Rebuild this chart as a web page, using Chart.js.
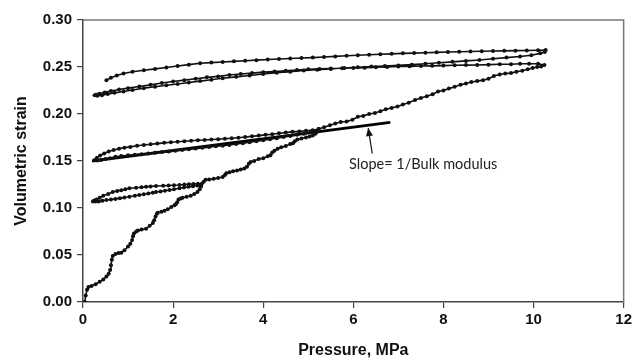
<!DOCTYPE html>
<html>
<head>
<meta charset="utf-8">
<script src="https://cdn.jsdelivr.net/npm/chart.js@4.4.1/dist/chart.umd.min.js"></script>
<style>
  html, body { margin: 0; padding: 0; background: #fff; }
  #wrap { width: 635px; height: 359px; position: relative; }
</style>
</head>
<body>
<div id="wrap"><canvas id="c" width="635" height="359"></canvas></div>
<script>
// ---- Data ----
// Initial loading 0 -> 2.64 MPa
const loadP1 = [0.04,0.06,0.09,0.12,0.19,0.28,0.37,0.45,0.52,0.57,0.60,0.62,0.64,0.66,0.72,0.79,0.85,0.92,1.00,1.05,1.09,1.11,1.13,1.18,1.22,1.30,1.40,1.48,1.55,1.58,1.61,1.64,1.66,1.74,1.81,1.88,1.96,2.03,2.06,2.09,2.12,2.17,2.21,2.30,2.39,2.47,2.54,2.59,2.62,2.64];
const loadS1 = [0.000,0.007,0.013,0.016,0.017,0.019,0.0216,0.024,0.027,0.030,0.034,0.039,0.045,0.049,0.051,0.052,0.0525,0.055,0.059,0.062,0.066,0.070,0.073,0.075,0.076,0.077,0.078,0.081,0.084,0.087,0.091,0.094,0.095,0.096,0.097,0.0986,0.101,0.103,0.104,0.106,0.109,0.110,0.111,0.112,0.113,0.115,0.117,0.120,0.123,0.126];
// First unloading (upper branch of loop 1)
const unloadP1 = [2.55,2.45,2.35,2.25,2.14,2.02,1.90,1.78,1.62,1.50,1.40,1.30,1.18,1.03,0.94,0.85,0.76,0.66,0.56,0.45,0.37,0.30,0.25,0.22];
const unloadS1 = [0.1258,0.1256,0.1253,0.125,0.1245,0.1242,0.124,0.1237,0.1234,0.123,0.1225,0.122,0.1215,0.121,0.120,0.119,0.118,0.117,0.115,0.113,0.111,0.109,0.108,0.107];
// First reloading (lower branch of loop 1)
const reloadP1 = [0.28,0.35,0.43,0.52,0.62,0.72,0.82,0.92,1.03,1.15,1.25,1.35,1.45,1.55,1.62,1.72,1.82,1.92,2.02,2.14,2.24,2.34,2.44,2.54,2.62,2.68];
const reloadS1 = [0.1068,0.107,0.1078,0.1085,0.109,0.1097,0.1105,0.1112,0.112,0.113,0.1138,0.1146,0.1155,0.1163,0.117,0.1176,0.1184,0.1192,0.120,0.121,0.1218,0.1225,0.1232,0.124,0.1245,0.128];
// Loading 2.7 -> 5.23 MPa
const loadP2 = [2.72,2.80,2.90,3.00,3.10,3.15,3.18,3.25,3.33,3.42,3.50,3.58,3.64,3.68,3.72,3.80,3.90,4.00,4.10,4.16,4.20,4.25,4.32,4.40,4.50,4.60,4.66,4.70,4.76,4.85,4.95,5.03,5.10,5.16,5.20,5.23];
const loadS2 = [0.130,0.1302,0.131,0.132,0.133,0.135,0.137,0.138,0.139,0.140,0.141,0.142,0.144,0.147,0.149,0.150,0.152,0.153,0.155,0.156,0.159,0.161,0.163,0.1645,0.166,0.168,0.169,0.171,0.173,0.174,0.175,0.176,0.177,0.179,0.181,0.184];
// Second unloading (upper branch of loop 2)
const unloadP2 = [5.10,4.95,4.80,4.65,4.50,4.35,4.20,4.05,3.90,3.75,3.60,3.45,3.30,3.15,3.00,2.85,2.70,2.55,2.40,2.25,2.10,1.95,1.80,1.65,1.50,1.35,1.20,1.05,0.92,0.80,0.68,0.57,0.47,0.38,0.31,0.26];
const unloadS2 = [0.1828,0.1822,0.1815,0.181,0.1802,0.1795,0.1785,0.1778,0.177,0.1762,0.1755,0.1748,0.1742,0.1737,0.1732,0.1728,0.1724,0.172,0.1715,0.171,0.1705,0.170,0.1693,0.1685,0.1678,0.167,0.1662,0.165,0.1642,0.163,0.1618,0.160,0.158,0.1558,0.1535,0.151];
// Second reloading (lower branch of loop 2)
const reloadP2 = [0.32,0.40,0.50,0.60,0.72,0.85,1.00,1.15,1.30,1.45,1.60,1.75,1.90,2.05,2.20,2.35,2.50,2.65,2.80,2.95,3.10,3.25,3.40,3.55,3.70,3.85,4.00,4.15,4.30,4.45,4.60,4.75,4.90,5.05,5.23];
const reloadS2 = [0.1505,0.151,0.152,0.153,0.1545,0.1553,0.156,0.1567,0.1573,0.158,0.1587,0.1595,0.160,0.1608,0.1617,0.1625,0.1632,0.164,0.1648,0.1657,0.1663,0.167,0.168,0.169,0.170,0.171,0.1722,0.1732,0.1742,0.1755,0.1767,0.1778,0.179,0.1805,0.184];
// Loading 5.23 -> 10.24 MPa
const loadP3 = [5.35,5.48,5.60,5.72,5.85,5.98,6.10,6.22,6.35,6.48,6.60,6.72,6.85,6.98,7.10,7.23,7.37,7.50,7.63,7.76,7.88,8.00,8.12,8.25,8.38,8.50,8.62,8.75,8.88,9.00,9.12,9.25,9.37,9.50,9.62,9.75,9.87,9.98,10.08,10.17,10.24];
const loadS3 = [0.186,0.188,0.190,0.1915,0.192,0.194,0.197,0.198,0.200,0.201,0.203,0.205,0.2065,0.208,0.210,0.212,0.215,0.217,0.219,0.221,0.224,0.225,0.227,0.229,0.231,0.2325,0.234,0.235,0.236,0.2375,0.2405,0.242,0.243,0.2435,0.245,0.246,0.2475,0.249,0.250,0.2505,0.252];
// Third unloading
const unloadP3 = [10.10,9.90,9.70,9.50,9.25,9.00,8.75,8.50,8.25,8.00,7.75,7.50,7.25,7.00,6.75,6.50,6.25,6.00,5.75,5.50,5.25,5.00,4.75,4.50,4.25,4.00,3.75,3.50,3.25,3.00,2.75,2.50,2.25,2.00,1.75,1.50,1.25,1.00,0.80,0.62,0.48,0.36,0.29,0.26];
const unloadS3 = [0.2535,0.2535,0.2535,0.253,0.253,0.2525,0.2522,0.252,0.2518,0.2515,0.2512,0.251,0.2507,0.2505,0.250,0.2497,0.2493,0.249,0.2487,0.2484,0.248,0.2475,0.2468,0.246,0.2452,0.2445,0.2435,0.2425,0.2415,0.240,0.239,0.2375,0.236,0.2345,0.233,0.231,0.2293,0.2275,0.226,0.2245,0.223,0.2215,0.2205,0.220];
// Third reloading
const reloadP3 = [0.32,0.42,0.55,0.70,0.90,1.10,1.35,1.60,1.85,2.10,2.35,2.60,2.85,3.10,3.40,3.70,4.00,4.30,4.60,4.90,5.20,5.50,5.80,6.10,6.40,6.70,7.00,7.30,7.60,7.90,8.20,8.50,8.80,9.10,9.40,9.70,9.95,10.15,10.25];
const reloadS3 = [0.2195,0.220,0.2212,0.2225,0.224,0.2255,0.2275,0.229,0.2305,0.232,0.2335,0.235,0.2365,0.238,0.2395,0.241,0.2425,0.244,0.245,0.2462,0.2472,0.248,0.249,0.2497,0.2505,0.251,0.2517,0.2525,0.2535,0.2545,0.2555,0.2565,0.2575,0.2588,0.260,0.2612,0.2625,0.2645,0.266];
// Final unloading (top branch)
const unloadP4 = [10.27,10.10,9.85,9.60,9.35,9.10,8.85,8.60,8.35,8.10,7.85,7.60,7.35,7.10,6.85,6.60,6.35,6.10,5.85,5.60,5.35,5.10,4.85,4.60,4.35,4.10,3.85,3.60,3.35,3.10,2.85,2.60,2.35,2.10,1.85,1.60,1.35,1.10,0.90,0.75,0.62,0.52];
const unloadS4 = [0.268,0.2678,0.2676,0.2674,0.2672,0.267,0.2668,0.2665,0.2662,0.266,0.2656,0.2652,0.2648,0.2645,0.264,0.2635,0.263,0.2625,0.262,0.2613,0.2607,0.260,0.2595,0.259,0.2585,0.258,0.2573,0.2567,0.256,0.2553,0.2547,0.254,0.2525,0.251,0.2495,0.248,0.2465,0.245,0.243,0.241,0.2385,0.236];
// Straight "slope" line
const slopeP = [0.2, 6.82];
const slopeS = [0.150, 0.191];
// Axis ticks
const xTicks = [0, 2, 4, 6, 8, 10, 12];
const yTicks = [0.00, 0.05, 0.10, 0.15, 0.20, 0.25, 0.30];
// Annotation
const noteText = "Slope= 1/Bulk modulus";
const noteAt = { x: 7.55, y: 0.1468 };
const arrowFrom = { x: 6.42, y: 0.158 };
const arrowTo = { x: 6.33, y: 0.185 };

// ---- Build ----
function pts(P, S) { return P.map((p, i) => ({ x: p, y: S[i] })); }
const path = [].concat(
  pts(loadP1, loadS1), pts(unloadP1, unloadS1), pts(reloadP1, reloadS1),
  pts(loadP2, loadS2), pts(unloadP2, unloadS2), pts(reloadP2, reloadS2),
  pts(loadP3, loadS3), pts(unloadP3, unloadS3), pts(reloadP3, reloadS3),
  pts(unloadP4, unloadS4)
);

const framePlugin = {
  id: 'frame',
  afterDraw(chart) {
    const { ctx, chartArea: a, scales } = chart;
    ctx.save();
    ctx.strokeStyle = '#777';
    ctx.lineWidth = 1.5;
    ctx.beginPath();
    ctx.moveTo(a.left, a.top);
    ctx.lineTo(a.right, a.top);
    ctx.lineTo(a.right, a.bottom);
    ctx.stroke();
    const x1 = scales.x.getPixelForValue(arrowFrom.x), y1 = scales.y.getPixelForValue(arrowFrom.y);
    const x2 = scales.x.getPixelForValue(arrowTo.x), y2 = scales.y.getPixelForValue(arrowTo.y);
    ctx.strokeStyle = '#111';
    ctx.fillStyle = '#111';
    ctx.lineWidth = 1.2;
    ctx.beginPath();
    ctx.moveTo(x1, y1);
    ctx.lineTo(x2, y2);
    ctx.stroke();
    const ang = Math.atan2(y2 - y1, x2 - x1);
    const L = 8, W = 3.5;
    ctx.beginPath();
    ctx.moveTo(x2, y2);
    ctx.lineTo(x2 - L * Math.cos(ang) + W * Math.sin(ang), y2 - L * Math.sin(ang) - W * Math.cos(ang));
    ctx.lineTo(x2 - L * Math.cos(ang) - W * Math.sin(ang), y2 - L * Math.sin(ang) + W * Math.cos(ang));
    ctx.closePath();
    ctx.fill();
    ctx.font = '14.5px Lato, "Open Sans", sans-serif';
    ctx.fillStyle = '#222';
    ctx.textAlign = 'center';
    ctx.textBaseline = 'middle';
    ctx.fillText(noteText, scales.x.getPixelForValue(noteAt.x), scales.y.getPixelForValue(noteAt.y));
    ctx.restore();
  }
};

new Chart(document.getElementById('c'), {
  type: 'scatter',
  data: {
    datasets: [
      {
        data: path,
        showLine: true,
        borderColor: '#111',
        backgroundColor: '#111',
        borderWidth: 1.6,
        pointRadius: 2,
        pointBorderWidth: 0,
        pointHoverRadius: 0,
        tension: 0
      },
      {
        data: pts(slopeP, slopeS),
        showLine: true,
        borderColor: '#000',
        borderWidth: 2.8,
        pointRadius: 0,
        tension: 0
      }
    ]
  },
  options: {
    responsive: false,
    animation: false,
    layout: { padding: { top: 20, right: 9, left: 0, bottom: 0 } },
    plugins: { legend: { display: false }, tooltip: { enabled: false } },
    scales: {
      x: {
        type: 'linear', min: 0, max: 12,
        afterBuildTicks: (s) => { s.ticks = xTicks.map(v => ({ value: v })); },
        afterFit: (s) => { s.height = 57; },
        ticks: { font: { family: 'Liberation Sans, Arial, sans-serif', size: 15, weight: 'bold' }, color: '#111', padding: 3, maxRotation: 0, callback: v => String(v) },
        grid: { drawOnChartArea: false, drawTicks: true, tickLength: 6, color: '#444', lineWidth: 1.2 },
        border: { color: '#444', width: 1.5 },
        title: { display: true, text: 'Pressure, MPa', color: '#111', font: { family: 'Liberation Sans, Arial, sans-serif', size: 16, weight: 'bold', lineHeight: 1 }, padding: { top: 0, bottom: 0 } }
      },
      y: {
        type: 'linear', min: 0, max: 0.3,
        afterBuildTicks: (s) => { s.ticks = yTicks.map(v => ({ value: v })); },
        afterFit: (s) => { s.width = 83; },
        ticks: { font: { family: 'Liberation Sans, Arial, sans-serif', size: 15, weight: 'bold' }, color: '#111', padding: 5, callback: v => Number(v).toFixed(2) },
        grid: { drawOnChartArea: false, drawTicks: true, tickLength: 6, color: '#444', lineWidth: 1.2 },
        border: { color: '#444', width: 1.5 },
        title: { display: true, text: 'Volumetric strain', color: '#111', font: { family: 'Liberation Sans, Arial, sans-serif', size: 16, weight: 'bold', lineHeight: 1 }, padding: { top: 14, bottom: 0 } }
      }
    }
  },
  plugins: [framePlugin]
});
</script>
</body>
</html>
